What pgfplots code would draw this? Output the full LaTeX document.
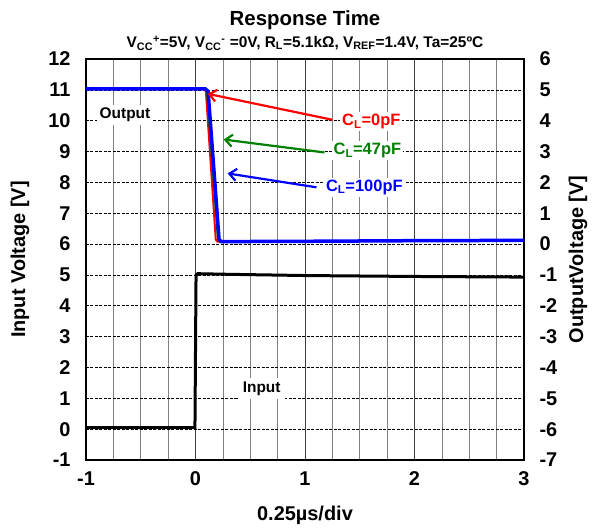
\documentclass[border=0pt]{standalone}
\usepackage{fontspec}
\setmainfont{Liberation Sans}
\usepackage{pgfplots}
\pgfplotsset{compat=1.18}
\usetikzlibrary{arrows.meta}
\definecolor{cgreen}{RGB}{0,128,0}
\begin{document}
\begin{tikzpicture}
\pgfplotsset{
  common/.style={
    scale only axis, width=438bp, height=401bp,
    xmin=-1, xmax=3,
    major tick length=0pt, minor tick length=0pt,
    tick label style={font=\fontsize{20}{24}\selectfont\bfseries},
    /pgf/number format/assume math mode=true,
    label style={font=\fontsize{20}{24}\selectfont\bfseries},
    axis line style={line width=1.2bp},
  }
}
\begin{axis}[common,
  ymin=-1, ymax=12,
  xtick={-1,0,1,2,3}, ytick={-1,0,...,12},
  minor xtick={-0.75,-0.5,-0.25,0.25,0.5,0.75,1.25,1.5,1.75,2.25,2.5,2.75},
  xmajorgrids, xminorgrids, ymajorgrids,
  major x grid style={gray!50!black, line width=0.8bp},
  minor x grid style={gray, line width=0.6bp},
  major y grid style={black, dash pattern=on 3bp off 1.5bp, line width=0.6bp},
  y tick label style={xshift=-12bp},
  x tick label style={yshift=-8bp},
  xlabel={0.25µs/div},
  ylabel={Input Voltage [V]},
  xlabel style={at={(axis description cs:0.5,-0.137)},anchor=center},
  ylabel style={at={(axis description cs:-0.1507,0.5)},anchor=center},
]
\coordinate (SW) at (rel axis cs:0,0);
\coordinate (NE) at (rel axis cs:1,1);
\coordinate (TC) at (rel axis cs:0.5,1);
\addplot[black, line width=3bp] coordinates {
(-1,0.05) (-0.005,0.05) (0.005,5.0) (0.02,5.04) (0.3,5.02) (1,4.98) (2,4.95) (3,4.93)
};
\end{axis}
\begin{axis}[common,
  axis x line=none, axis y line*=right,
  ymin=-7, ymax=6, ytick={-7,-6,...,6},
  y tick label style={xshift=12bp},
  ylabel={OutputVoltage [V]},
  ylabel style={at={(axis description cs:1.1233,0.5)},anchor=center},
]
\addplot[red, line width=2bp] coordinates {
(-1,5.03) (0.08,5.03) (0.095,4.95) (0.185,0.15) (0.20,0.08) (1,0.09) (2,0.11) (3,0.12)
};
\addplot[cgreen, line width=2bp] coordinates {
(-1,5.03) (0.085,5.03) (0.105,4.95) (0.205,0.15) (0.22,0.08) (1,0.09) (2,0.11) (3,0.12)
};
\addplot[blue, line width=3.5bp] coordinates {
(-1,5.03) (0.09,5.03) (0.115,4.95) (0.215,0.15) (0.235,0.08) (1,0.09) (2,0.11) (3,0.12)
};
\draw[red, line width=2.2bp, -{Straight Barb[length=7bp,width=12bp]}] (axis cs:1.25,4.03) -- (axis cs:0.112,4.87);
\draw[cgreen, line width=2.2bp, -{Straight Barb[length=7bp,width=12bp]}] (axis cs:1.178,2.97) -- (axis cs:0.257,3.39);
\draw[blue, line width=2.2bp, -{Straight Barb[length=7bp,width=12bp]}] (axis cs:1.105,1.84) -- (axis cs:0.294,2.29);
\node[fill=white, text=red, font=\fontsize{16.5}{18}\selectfont\bfseries, inner sep=2bp] at (axis cs:1.606,3.97) {C\textsubscript{L}=0pF};
\node[fill=white, text=cgreen, font=\fontsize{16.5}{18}\selectfont\bfseries, inner sep=2bp] at (axis cs:1.570,3.03) {C\textsubscript{L}=47pF};
\node[fill=white, text=blue, font=\fontsize{16.5}{18}\selectfont\bfseries, inner sep=2bp] at (axis cs:1.542,1.84) {C\textsubscript{L}=100pF};
\node[fill=white, font=\fontsize{15.5}{17}\selectfont\bfseries, inner sep=3bp] at (axis cs:-0.644,4.18) {Output};
\node[fill=white, font=\fontsize{15.5}{17}\selectfont\bfseries, inner sep=4bp] at (axis cs:0.604,-4.68) {Input};
\end{axis}
\node[font=\fontsize{20.5}{22}\selectfont\bfseries] at ([yshift=39bp]TC) {Response Time};
\node[font=\fontsize{15.5}{17}\selectfont\bfseries] at ([yshift=16bp]TC)
  {V\textsubscript{CC}\textsuperscript{+}=5V, V\textsubscript{CC}\textsuperscript{-} =0V, R\textsubscript{L}=5.1kΩ, V\textsubscript{REF}=1.4V, Ta=25ºC};
\pgfresetboundingbox
\path[use as bounding box] ([shift={(-86bp,-71bp)}]SW) rectangle ([shift={(78bp,59bp)}]NE);
\end{tikzpicture}
\end{document}
